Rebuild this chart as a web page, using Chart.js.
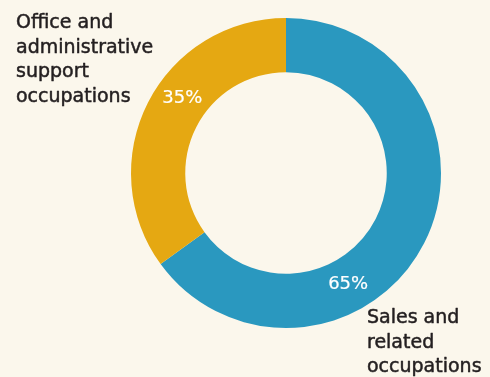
<!DOCTYPE html>
<html>
<head>
<meta charset="utf-8">
<script src="https://cdn.jsdelivr.net/npm/chart.js@4/dist/chart.umd.min.js"></script>
<style>
  html, body { margin: 0; padding: 0; background: #fbf7ec; }
  #wrap { width: 490px; height: 377px; position: relative; }
</style>
</head>
<body>
<div id="wrap"><canvas id="chartOccupations"></canvas></div>
<script>
// ── Occupation share (doughnut) ───────────────────────────

const categories = [
  ["Sales and", "related", "occupations"],
  ["Office and", "administrative", "support", "occupations"],
];
const shares = [65, 35];
const sliceColors = ["#2a98bf", "#e5a812"];

const textColor = "#231f20";
const fontFamily = "'DejaVu Sans', sans-serif";

// where along each arc the percent sits (0 = start, 1 = end)
const pctAlong = [0.645, 0.57];
// anchor of each category label block: [x, first baseline]
const labelAnchor = [
  [367, 323],
  [16, 28],
];

// draw text with an optional hairline stroke so it reads a bit heavier
function heavyText(ctx, str, x, y, color, weight) {
  ctx.fillStyle = color;
  ctx.fillText(str, x, y);
  if (weight > 0) {
    ctx.strokeStyle = color;
    ctx.lineWidth = weight;
    ctx.lineJoin = "round";
    ctx.strokeText(str, x, y);
  }
}

const labelsPlugin = {
  id: "sliceLabels",
  afterDatasetsDraw(chart) {
    const ctx = chart.ctx;
    const meta = chart.getDatasetMeta(0);
    ctx.save();
    meta.data.forEach((arc, i) => {
      const p = arc.getProps(["x", "y", "startAngle", "endAngle", "innerRadius", "outerRadius"], true);
      const a = p.startAngle + (p.endAngle - p.startAngle) * pctAlong[i];
      const r = (p.innerRadius + p.outerRadius) / 2;
      ctx.font = "18px " + fontFamily;
      ctx.textAlign = "center";
      ctx.textBaseline = "middle";
      heavyText(ctx, shares[i] + "%", p.x + Math.cos(a) * r, p.y + Math.sin(a) * r, "#ffffff", 0.2);

      ctx.font = "19px " + fontFamily;
      ctx.textAlign = "left";
      ctx.textBaseline = "alphabetic";
      categories[i].forEach((line, k) => {
        heavyText(ctx, line, labelAnchor[i][0], labelAnchor[i][1] + k * 24.6, textColor, 0.5);
      });
    });
    ctx.restore();
  },
};

new Chart(document.getElementById("chartOccupations"), {
  type: "doughnut",
  data: {
    labels: categories.map((c) => c.join(" ")),
    datasets: [
      {
        data: shares,
        backgroundColor: sliceColors,
        borderWidth: 0,
      },
    ],
  },
  options: {
    responsive: true,
    maintainAspectRatio: false,
    animation: false,
    cutout: "65%",
    layout: { padding: { top: 18, bottom: 49, left: 131, right: 49 } },
    plugins: {
      legend: { display: false },
      tooltip: { enabled: false },
    },
  },
  plugins: [labelsPlugin],
});
</script>
</body>
</html>
